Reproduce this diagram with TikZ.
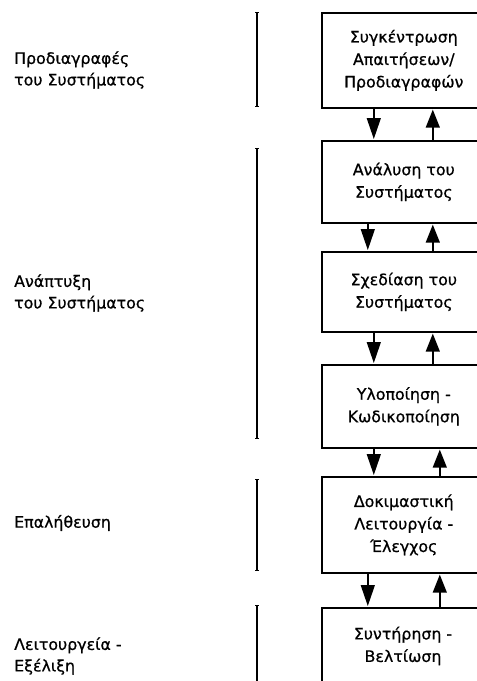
\documentclass[tikz,border=0pt]{standalone}
\usepackage{fontspec}
\setmainfont{DejaVu Sans}[FakeBold=0.7]
\usetikzlibrary{arrows.meta}
\begin{document}
\begin{tikzpicture}[x=1pt,y=-1pt,
  every node/.style={font=\fontsize{15.8}{22.5}\selectfont},
  stage/.style={draw, line width=1.6pt, minimum width=164pt, inner sep=0pt, align=center, anchor=north west},
  arrdown/.style={line width=1.4pt, -{Triangle[length=21pt,width=14pt]}, shorten >=1pt},
  arrup/.style={line width=1.4pt, -{Triangle[length=18pt,width=14pt]}, shorten >=1pt},
  bracket/.style={line width=1.2pt, {Bar[width=4pt]}-{Bar[width=4pt]}},
  phase/.style={align=left, anchor=west, inner sep=0pt, font=\fontsize{15.8}{21.5}\selectfont}]
\useasboundingbox (0,0) rectangle (477,681);
\clip (0,0) rectangle (477,681);
\fill[white] (0,0) rectangle (477,681);
% boxes
\node[stage, minimum height=95pt] (b1) at (321,12) {Συγκέντρωση\\Απαιτήσεων/\\Προδιαγραφών};
\node[stage, minimum height=82pt] (b2) at (321,140) {Ανάλυση του\\Συστήματος};
\node[stage, minimum height=80pt] (b3) at (321,251) {Σχεδίαση του\\Συστήματος};
\node[stage, minimum height=83pt] (b4) at (321,364) {Υλοποίηση -\\Κωδικοποίηση};
\node[stage, minimum height=96pt] (b5) at (321,476) {Δοκιμαστική\\Λειτουργία -\\Έλεγχος};
\node[stage, minimum height=96pt] (b6) at (321,607) {};
\node[align=center, inner sep=0pt] (t6) at (403,646) {Συντήρηση -\\Βελτίωση};
% arrows
\draw[arrdown] ([xshift=-30pt]b1.south) -- ([xshift=-30pt]b2.north);
\draw[arrup]   ([xshift=29pt]b2.north) -- ([xshift=29pt]b1.south);
\draw[arrdown] ([xshift=-36pt]b2.south) -- ([xshift=-36pt]b3.north);
\draw[arrup]   ([xshift=29pt]b3.north) -- ([xshift=29pt]b2.south);
\draw[arrdown] ([xshift=-30pt]b3.south) -- ([xshift=-30pt]b4.north);
\draw[arrup]   ([xshift=29pt]b4.north) -- ([xshift=29pt]b3.south);
\draw[arrdown] ([xshift=-30pt]b4.south) -- ([xshift=-30pt]b5.north);
\draw[arrup]   ([xshift=36pt]b5.north) -- ([xshift=36pt]b4.south);
\draw[arrdown] ([xshift=-36pt]b5.south) -- ([xshift=-36pt]b6.north);
\draw[arrup]   ([xshift=36pt]b6.north) -- ([xshift=36pt]b5.south);
% brackets
\coordinate (k1a) at (257,12);  \coordinate (k1b) at (257,107);
\coordinate (k2a) at (257,148); \coordinate (k2b) at (257,439);
\coordinate (k3a) at (257,479); \coordinate (k3b) at (257,571);
\coordinate (k4a) at (257,605); \coordinate (k4b) at (257,690);
\draw[bracket] (k1a) -- (k1b);
\draw[bracket] (k2a) -- (k2b);
\draw[bracket] (k3a) -- (k3b);
\draw[bracket] (k4a) -- (k4b);
% phase labels
\node[phase] (p1) at (14,70) {Προδιαγραφές\\του Συστήματος};
\node[phase] (p2) at (14,293) {Ανάπτυξη\\του Συστήματος};
\node[phase] (p3) at (14,523) {Επαλήθευση};
\node[phase] (p4) at (14,656) {Λειτουργεία -\\Εξέλιξη};
\end{tikzpicture}
\end{document}
